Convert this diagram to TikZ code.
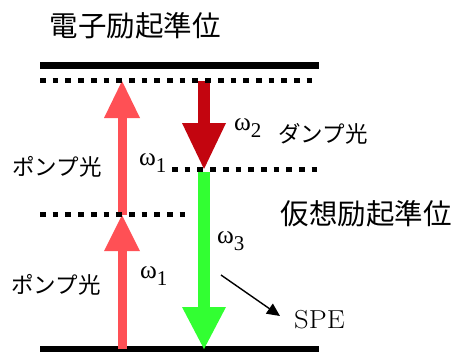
\documentclass[tikz,border=0pt]{standalone}
\usepackage{fontspec}
\usepackage{graphicx}
\newfontfamily\jp{Noto Sans CJK JP}
\newfontfamily\tnr{Liberation Serif}
\usetikzlibrary{calc,arrows.meta}
\definecolor{pumpc}{RGB}{255,80,85}
\definecolor{dumpc}{RGB}{195,5,15}
\definecolor{emitc}{RGB}{50,255,50}
% #1 start, #2 tip, #3 shaft width, #4 head half width, #5 signed head length, #6 colour
\newcommand\fatarrow[6]{%
  \draw[#6, line width=#3] (#1) -- ($(#2)+(0,#5/2)$);
  \fill[#6] (#2) -- ($(#2)+(-#4,#5)$) -- ($(#2)+(#4,#5)$) -- cycle;
}
\newcommand\omg[1]{ω\raisebox{-7.5pt}{\fontsize{21}{22}\selectfont #1}}
\begin{document}
\begin{tikzpicture}[x=1pt,y=-1pt,
  level/.style={line width=7pt},
  vlevel/.style={line width=5.5pt, dash pattern=on 5.7pt off 7pt},
  title/.style={inner sep=0pt, font=\jp\fontsize{28.5}{32}\selectfont},
  jplabel/.style={inner sep=0pt, font=\jp\fontsize{22.5}{24}\selectfont},
  mlabel/.style={inner sep=0pt, anchor=base west, font=\tnr\fontsize{25.5}{28}\selectfont}]
\useasboundingbox (0,0) rectangle (454,351);
% level coordinates
\coordinate (EL) at (40,65.5);   \coordinate (ER) at (319,65.5);
\coordinate (VTL) at (40,80.5);  \coordinate (VTR) at (313,80.5);
\coordinate (VML) at (172,169.5);\coordinate (VMR) at (317,169.5);
\coordinate (VLL) at (40,214.5); \coordinate (VLR) at (186,214.5);
\coordinate (GL) at (40,349);    \coordinate (GR) at (319,349);
% arrow end points
\coordinate (p1s) at (122,215); \coordinate (p1t) at (122,81);
\coordinate (p0s) at (122,349); \coordinate (p0t) at (122,215);
\coordinate (ds) at (204,81);   \coordinate (dt) at (204,169);
\coordinate (gs) at (204,172);  \coordinate (gt) at (204,349);
\coordinate (s1) at (221,275);  \coordinate (s2) at (280,316);
% levels
\draw[level] (EL) -- (ER);
\draw[level] (GL) -- (GR);
% arrows
\fatarrow{p1s}{p1t}{9pt}{18}{37}{pumpc}
\fatarrow{p0s}{p0t}{9pt}{18}{36}{pumpc}
\fatarrow{ds}{dt}{12pt}{22}{-46}{dumpc}
\fatarrow{gs}{gt}{12pt}{22}{-42}{emitc}
% virtual levels
\draw[vlevel] (VTL) -- (VTR);
\draw[vlevel] (VML) -- (VMR);
\draw[vlevel] (VLL) -- (VLR);
% SPE arrow
\draw[line width=1.4pt, -{Triangle[length=13pt,width=12pt]}] (s1) -- (s2);
% labels
\node[title] (t1) at (135,26) {電子励起準位};
\node[title] (t2) at (366,214) {仮想励起準位};
\node[jplabel] (pl1) at (57,167) {ポンプ光};
\node[jplabel] (pl2) at (56,285) {ポンプ光};
\node[jplabel] (dl) at (323,134) {ダンプ光};
\node[mlabel] (w2) at (234,130) {\omg{2}};
\node[mlabel] (w1a) at (139,165) {\omg{1}};
\node[mlabel] (w3) at (217,243) {\omg{3}};
\node[mlabel] (w1b) at (140,278) {\omg{1}};
\node[mlabel, font=\fontsize{26}{28}\selectfont] (spe) at (294,328) {\scalebox{1.1}[1]{SPE}};
\end{tikzpicture}
\end{document}
